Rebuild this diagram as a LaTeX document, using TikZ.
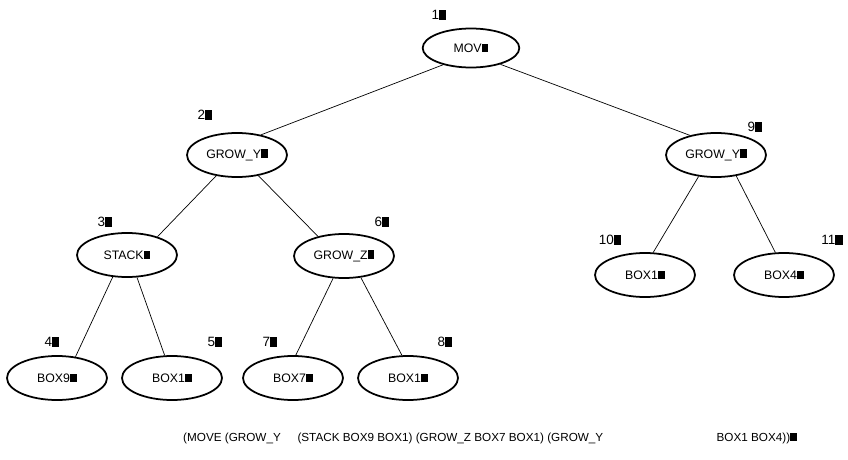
\documentclass[tikz,border=0pt]{standalone}
\usepackage{fontspec}
\setmainfont{Liberation Sans}
\usetikzlibrary{shapes.geometric}

% box left where a glyph is missing
\newcommand{\nog}{\rule{0.55em}{0.72em}}

\tikzset{
  term/.style={draw, ellipse, line width=1.5pt, minimum width=30mm, minimum height=13.2mm,
    inner sep=0pt, font=\fontsize{10.5}{12}\selectfont},
  num/.style={inner sep=0pt, font=\fontsize{11.5}{13}\selectfont},
  edge/.style={line width=0.6pt},
}

\begin{document}
\begin{tikzpicture}[x=0.3mm,y=-0.3mm]
  \useasboundingbox (0,0) rectangle (848,459);

  % Terms of the tree
  \node[term, minimum width=29mm, minimum height=11.7mm] (move) at (471,48) {MOV\nog};
  \node[term] (growyl) at (237,155) {GROW\_Y\nog};
  \node[term] (growyr) at (716,155) {GROW\_Y\nog};
  \node[term] (stack) at (127,255) {STACK\nog};
  \node[term] (growz) at (344,256) {GROW\_Z\nog};
  \node[term] (boxa) at (645,275) {BOX1\nog};
  \node[term] (boxb) at (784,275) {BOX4\nog};
  \node[term] (boxc) at (57,378) {BOX9\nog};
  \node[term] (boxd) at (172,378) {BOX1\nog};
  \node[term] (boxe) at (293,378) {BOX7\nog};
  \node[term] (boxf) at (408,378) {BOX1\nog};

  % Numbers of the terms
  \node[num] (n1) at (439,15) {1\nog};
  \node[num] (n2) at (205,115) {2\nog};
  \node[num] (n9) at (755,127) {9\nog};
  \node[num] (n3) at (105,222) {3\nog};
  \node[num] (n6) at (382,222) {6\nog};
  \node[num] (n10) at (610,240) {10\nog};
  \node[num] (n11) at (832,240) {11\nog};
  \node[num] (n4) at (52,342) {4\nog};
  \node[num] (n5) at (215,342) {5\nog};
  \node[num] (n7) at (270,342) {7\nog};
  \node[num] (n8) at (445,342) {8\nog};

  % Links from parent to child
  \draw[edge] (move.211) -- (growyl.40);
  \draw[edge] (move.-29) -- (growyr.143);
  \draw[edge] (growyl.225) -- (stack.31);
  \draw[edge] (growyl.-44) -- (growz.143);
  \draw[edge] (stack.237) -- (boxc.49);
  \draw[edge] (stack.-66) -- (boxd.108);
  \draw[edge] (growz.244) -- (boxe.83);
  \draw[edge] (growz.-52) -- (boxf.105);
  \draw[edge] (growyr.231) -- (boxa.70);
  \draw[edge] (growyr.-46) -- (boxb.111);

  % The tree written as a list
  \node[num, anchor=west, font=\fontsize{10}{12}\selectfont] (linear) at (183,438)
    {(MOVE (GROW\_Y\hspace{5mm}(STACK BOX9 BOX1) (GROW\_Z BOX7 BOX1) (GROW\_Y\hspace{34mm}BOX1 BOX4))\nog};
\end{tikzpicture}
\end{document}
